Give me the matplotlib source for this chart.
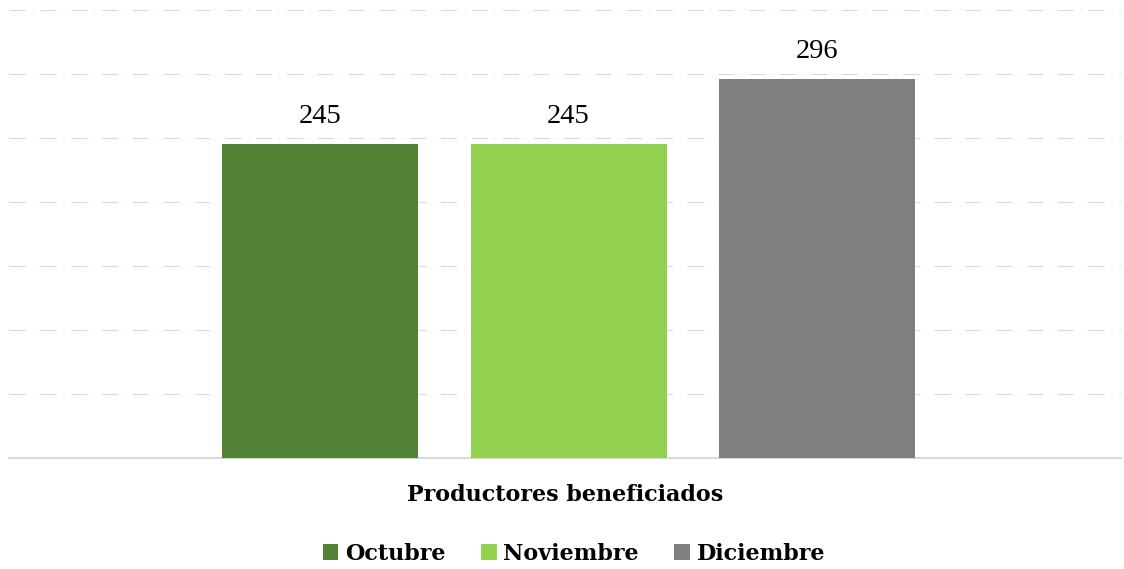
import matplotlib.pyplot as plt
from matplotlib.patches import Patch

# Data
category = "Productores beneficiados"
months = ["Octubre", "Noviembre", "Diciembre"]
values = [245, 245, 296]
colors = ["#548235", "#92d050", "#7f7f7f"]

plt.rcParams['font.family'] = ['Liberation Serif', 'DejaVu Serif']
plt.rcParams['lines.scale_dashes'] = False

fig = plt.figure(figsize=(11.24, 5.69), dpi=100)
ax = fig.add_axes([9 / 1124, 111 / 569, 1112 / 1124, 448 / 569])

width = 196 / 248.5
for i, (m, v, c) in enumerate(zip(months, values, colors)):
    x = i - 1
    ax.bar(x, v, width=width, color=c, zorder=3)
    ax.annotate(str(v), (x, v), xytext=(0, 11), textcoords='offset points',
                ha='center', va='bottom', fontsize=20.5, color='black')

ax.set_ylim(0, 350)
ax.set_xlim(-2.2515, 2.2233)

# dash-dot gridlines
ax.set_yticks(range(50, 351, 50))
ax.yaxis.grid(True, color='#d9d9d9', linewidth=0.8, linestyle=(0, (11.5, 5, 0.7, 5)))
ax.tick_params(left=False, labelleft=False, bottom=False, labelbottom=False)
for side in ['top', 'right', 'left']:
    ax.spines[side].set_visible(False)
ax.spines['bottom'].set_color('#d9d9d9')
ax.spines['bottom'].set_linewidth(1.5)

fig.text(565 / 1124, 1 - 495 / 569, category, ha='center', va='center',
         fontsize=16, fontweight='bold', family='DejaVu Serif')

handles = [Patch(facecolor=c, label=m) for m, c in zip(months, colors)]
fig.legend(handles=handles, loc='center', bbox_to_anchor=(574 / 1124, 1 - 554 / 569),
           ncol=3, frameon=False, prop={'size': 16, 'weight': 'bold', 'family': 'DejaVu Serif'},
           handlelength=0.7, handleheight=0.7, handletextpad=0.3, columnspacing=1.6)

fig.savefig('out.png', dpi=100)
